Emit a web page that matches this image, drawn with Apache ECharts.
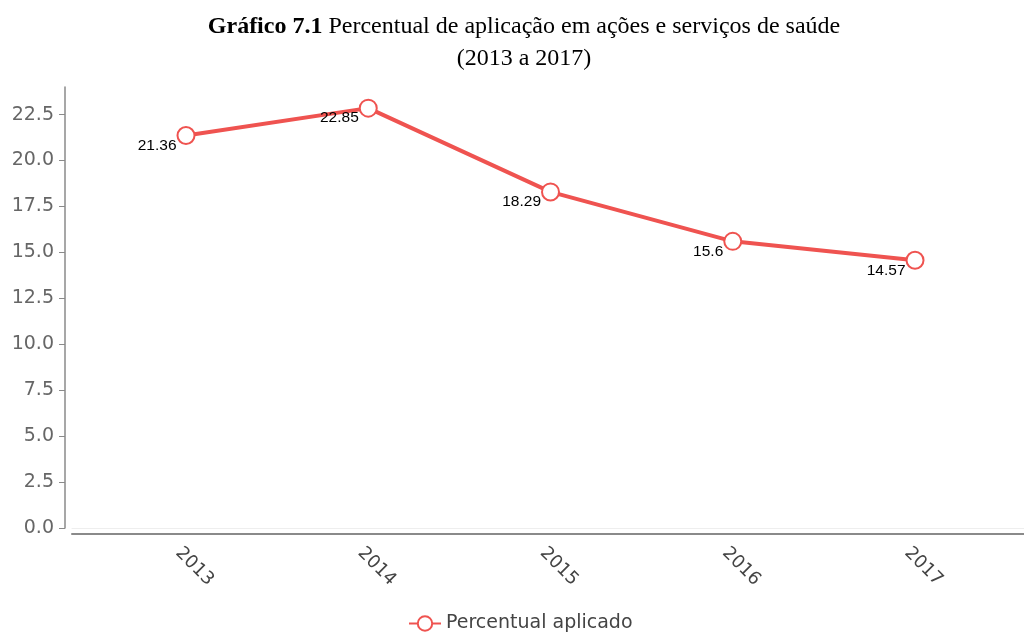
<!DOCTYPE html>
<html>
<head>
<meta charset="utf-8">
<script src="https://cdn.jsdelivr.net/npm/echarts@6/dist/echarts.min.js"></script>
<style>
  html, body { margin: 0; padding: 0; background: #ffffff; }
  #chart { width: 1024px; height: 633px; }
</style>
</head>
<body>
<div id="chart"></div>
<script>
// Years shown on the horizontal axis
const years = ['2013', '2014', '2015', '2016', '2017'];
// Share applied to health actions and services (%)
const percentApplied = [21.36, 22.85, 18.29, 15.6, 14.57];
// Vertical axis tick values
const yTicks = [0, 2.5, 5, 7.5, 10, 12.5, 15, 17.5, 20, 22.5];

const RED = '#ef5350';

const chart = echarts.init(document.getElementById('chart'), null, { renderer: 'canvas' });

chart.setOption({
  backgroundColor: '#ffffff',
  animation: false,
  title: {
    left: 519,
    top: 6,
    textAlign: 'center',
    text: '{b|Gráfico 7.1} Percentual de aplicação em ações e serviços de saúde\n(2013 a 2017)',
    textStyle: {
      fontFamily: 'Liberation Serif',
      fontSize: 24,
      fontWeight: 'normal',
      color: '#000',
      lineHeight: 32,
      rich: {
        b: { fontFamily: 'Liberation Serif', fontSize: 24, fontWeight: 'bold', color: '#000', lineHeight: 32 }
      }
    }
  },
  legend: {
    bottom: -5,
    left: 403,
    itemWidth: 32,
    itemHeight: 18,
    itemGap: 9,
    textStyle: { fontFamily: 'DejaVu Sans', fontSize: 19, color: '#444' },
    data: ['Percentual aplicado']
  },
  grid: { left: 72, right: 0, top: 87, bottom: 105 },
  xAxis: [
    {
      type: 'value',
      min: -0.6255,
      max: 4.598,
      offset: 6,
      splitLine: { show: false },
      axisLine: { show: true, onZero: false, lineStyle: { color: '#8a8a8a', width: 2 } },
      axisTick: { show: false },
      axisLabel: {
        customValues: years.map((_, i) => i),
        formatter: v => years[Math.round(v)],
        rotate: -45,
        margin: 24,
        align: 'center',
        verticalAlign: 'middle',
        padding: [0, 0, 0, 24],
        fontFamily: 'DejaVu Sans',
        fontSize: 18,
        color: '#444'
      }
    },
    {
      type: 'value',
      min: -0.6255,
      max: 4.598,
      position: 'bottom',
      offset: 0,
      splitLine: { show: false },
      axisLine: { show: true, onZero: false, lineStyle: { color: '#eeeeee', width: 1 } },
      axisTick: { show: false },
      axisLabel: { show: false }
    }
  ],
  yAxis: {
    type: 'value',
    min: 0,
    max: 24,
    offset: 7,
    splitLine: { show: false },
    axisLine: { show: true, onZero: false, lineStyle: { color: '#8a8a8a', width: 1.5 } },
    axisTick: { show: true, length: 6, customValues: yTicks, lineStyle: { color: '#8a8a8a' } },
    axisLabel: {
      customValues: yTicks,
      formatter: v => v.toFixed(1),
      margin: 11,
      fontFamily: 'DejaVu Sans',
      fontSize: 19,
      color: '#666'
    }
  },
  series: [
    {
      name: 'Percentual aplicado',
      type: 'line',
      xAxisIndex: 0,
      data: percentApplied.map((v, i) => [i, v]),
      symbol: 'emptyCircle',
      symbolSize: 17,
      lineStyle: { color: RED, width: 4 },
      itemStyle: { color: RED, borderColor: RED, borderWidth: 3 },
      label: {
        show: true,
        position: 'left',
        distance: 0,
        offset: [0, 10],
        formatter: p => String(percentApplied[p.dataIndex]),
        fontFamily: 'Liberation Sans',
        fontSize: 15.5,
        color: '#000'
      }
    }
  ]
});
</script>
</body>
</html>
